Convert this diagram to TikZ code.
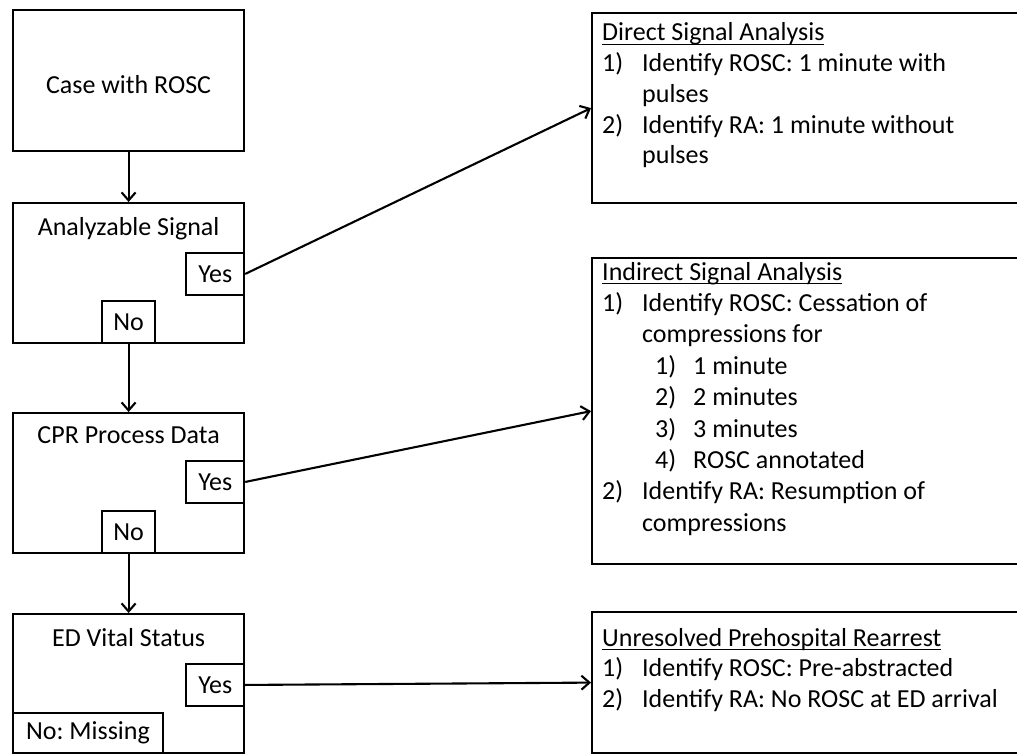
\documentclass[tikz,border=0pt]{standalone}
\usepackage{fontspec}
\setmainfont{Carlito}
\usetikzlibrary{arrows.meta,positioning,calc}
\frenchspacing
\newcommand\headrule[1]{\setbox0\hbox{#1}\rlap{\rule[-4pt]{\wd0}{1.4pt}}\box0}

\begin{document}
\begin{tikzpicture}[
  x=1pt, y=-1pt,
  frame/.style={draw, line width=2.2pt, anchor=north west, inner sep=0pt},
  answer/.style={draw, line width=1.9pt, fill=white, inner sep=0pt,
                 minimum height=42pt, font=\fontsize{26}{30.5}\selectfont},
  heading/.style={anchor=base, inner sep=0pt, font=\fontsize{26}{30.5}\selectfont},
  steps/.style={anchor=base west, align=left, inner sep=0pt,
                font=\fontsize{26}{30.75}\selectfont},
  arrow/.style={-{Straight Barb[length=8pt,width=14pt]}, line width=2.1pt}
]
\useasboundingbox (0,0) rectangle (1017,754);
\clip (0,0) rectangle (1017,754);

% left column
\node[frame, minimum width=231pt, minimum height=141pt] (rosc) at (12,9) {};
\node[frame, minimum width=231pt, minimum height=140pt] (signal) at (12,202) {};
\node[frame, minimum width=231pt, minimum height=140pt] (cpr) at (12,412) {};
\node[frame, minimum width=231pt, minimum height=139pt] (vital) at (12,613) {};

\node[heading] (rosc title) at ($(rosc.center)+(0,13)$) {Case with ROSC};
\node[heading] (signal title) at ($(signal.north)+(0,33)$) {Analyzable Signal};
\node[heading] (cpr title) at ($(cpr.north)+(0,31)$) {CPR Process Data};
\node[heading] (vital title) at ($(vital.north)+(0,33)$) {ED Vital Status};

\node[answer, minimum width=58pt, anchor=north east] (signal yes) at ($(signal.north east)+(0,50)$) {Yes};
\node[answer, minimum width=58pt, anchor=north east] (cpr yes) at ($(cpr.north east)+(0,48)$) {Yes};
\node[answer, minimum width=58pt, anchor=north east] (vital yes) at ($(vital.north east)+(0,50)$) {Yes};
\node[answer, minimum width=53pt, anchor=south] (signal no) at (signal.south) {No};
\node[answer, minimum width=53pt, anchor=south] (cpr no) at (cpr.south) {No};
\node[answer, minimum width=150pt, minimum height=40pt, anchor=south west] (vital no) at (vital.south west) {No: Missing};

% right column
\node[frame, minimum width=440pt, minimum height=190pt] (direct) at (591,12) {};
\node[frame, minimum width=440pt, minimum height=306pt] (indirect) at (591,257) {};
\node[frame, minimum width=440pt, minimum height=141pt] (rearrest) at (591,611) {};

\node[steps] (direct text) at (602,41) {\begin{tabular}[t]{@{}p{40pt}@{}l@{}}
  \multicolumn{2}{@{}l@{}}{\headrule{Direct Signal Analysis}}\\
  1) & Identify ROSC: 1 minute with\\
     & pulses\\
  2) & Identify RA: 1 minute without\\
     & pulses
\end{tabular}};
\node[steps, font=\fontsize{26}{31.4}\selectfont] (indirect text) at (602,280) {\begin{tabular}[t]{@{}p{40pt}@{}l@{}}
  \multicolumn{2}{@{}l@{}}{\headrule{Indirect Signal Analysis}}\\
  1) & Identify ROSC: Cessation of\\
     & compressions for\\
     & \hspace{13pt}\makebox[38pt][l]{1)}1 minute\\
     & \hspace{13pt}\makebox[38pt][l]{2)}2 minutes\\
     & \hspace{13pt}\makebox[38pt][l]{3)}3 minutes\\
     & \hspace{13pt}\makebox[38pt][l]{4)}ROSC annotated\\
  2) & Identify RA: Resumption of\\
     & compressions
\end{tabular}};
\node[steps, font=\fontsize{26}{30.5}\selectfont] (rearrest text) at (602,646) {\begin{tabular}[t]{@{}p{40pt}@{}l@{}}
  \multicolumn{2}{@{}l@{}}{\headrule{Unresolved Prehospital Rearrest}}\\
  1) & Identify ROSC: Pre-abstracted\\
  2) & Identify RA: No ROSC at ED arrival
\end{tabular}};

% connectors
\draw[arrow] (rosc) -- (signal);
\draw[arrow] (signal no) -- (cpr);
\draw[arrow] (cpr no) -- (vital);
\draw[arrow] (signal yes.east) -- (direct.west);
\draw[arrow] (cpr yes.east) -- (indirect.west);
\draw[arrow] (vital yes.east) -- (rearrest.west);
\end{tikzpicture}
\end{document}
